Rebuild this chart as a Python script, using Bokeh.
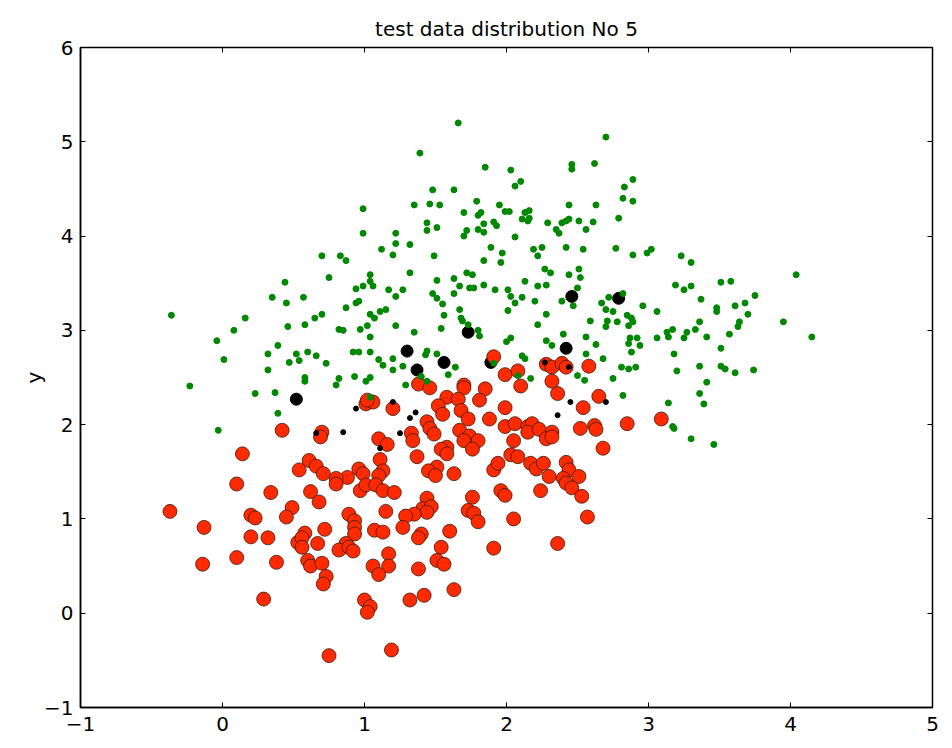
from bokeh.plotting import figure
from bokeh.models import Range1d, LinearAxis, FixedTicker, Label
from bokeh.embed import file_html
from bokeh.resources import INLINE

green_x = [0.70,0.44,0.75,0.35,0.57,
1.66,1.39,1.85,1.48,1.63,1.35,1.46,1.53,1.79,0.99,1.70,1.80,1.82,1.44,1.84,1.91,1.51,1.44,1.72,1.80,1.84,1.70,0.99,1.22,1.22,1.32,1.12,1.20,1.49,1.89,1.84,0.83,0.87,1.04,1.32,1.72,1.76,1.04,1.06,0.99,0.94,1.51,1.63,1.67,1.74,1.77,1.84,1.92,1.17,1.27,1.22,1.48,1.63,1.51,
2.70,2.03,2.46,2.46,2.62,2.89,2.10,2.06,2.83,2.82,2.89,1.95,2.44,2.63,1.99,2.02,2.13,2.16,2.11,2.15,2.16,1.93,2.29,2.39,2.42,2.44,2.51,2.61,2.79,2.35,2.37,2.56,2.06,1.97,1.96,2.19,2.25,2.22,2.42,2.54,2.77,2.89,2.99,3.02,2.27,2.31,2.44,2.51,2.52,2.13,2.22,2.28,2.50,2.01,2.03,2.11,2.82,2.72,
3.23,3.30,4.04,3.19,3.25,3.30,3.51,3.58,3.75,3.37,
3.06,3.48,3.48,3.61,3.68,3.70,3.95,4.15,3.36,3.64,3.63,3.13,3.17,3.27,3.33,3.14,3.06,3.25,3.41,3.57,3.51,3.18,3.20,3.36,3.51,3.54,3.61,3.74,3.41,3.36,3.14,3.39,3.17,3.18,3.30,3.46,
0.45,-0.36,0.16,0.08,0.46,0.58,0.65,0.70,-0.04,0.39,0.01,0.32,0.52,0.60,0.66,0.47,0.54,0.73,0.32,0.58,0.58,-0.23,0.23,0.37,0.39,-0.03,
0.87,0.94,0.96,1.04,1.11,1.15,1.07,1.02,0.97,1.22,0.82,0.85,1.04,1.35,1.55,1.56,1.67,1.68,1.69,1.73,1.54,1.80,1.81,0.92,0.96,1.04,1.10,1.13,1.20,1.27,1.20,1.44,1.43,1.51,1.64,1.59,1.40,1.44,1.29,0.93,1.04,1.01,0.82,0.80,1.04,1.91,
2.20,2.39,2.47,2.67,2.70,2.75,2.96,2.01,2.06,2.28,2.22,2.59,2.71,2.78,2.70,2.85,2.88,2.86,2.89,2.40,2.56,2.28,2.32,2.63,2.87,2.92,2.86,2.94,2.00,2.03,2.56,2.68,2.88,2.11,2.13,2.81,2.86,2.91,2.50,2.55,2.75,2.17,2.82,2.08]
green_y = [3.79,3.51,3.56,3.35,3.35,
5.20,4.88,4.73,4.49,4.49,4.33,4.34,4.33,4.37,4.29,4.25,4.22,4.25,4.14,4.13,4.15,4.09,4.06,4.06,4.07,4.04,4.00,4.03,4.03,3.92,3.91,3.86,3.80,3.79,3.88,3.74,3.79,3.74,3.59,3.61,3.61,3.59,3.52,3.47,3.47,3.44,3.53,3.55,3.47,3.45,3.45,3.48,3.43,3.43,3.43,3.36,3.39,3.39,3.34,
5.05,4.70,4.76,4.71,4.77,4.60,4.58,4.53,4.52,4.40,4.37,4.33,4.33,4.33,4.26,4.26,4.25,4.27,4.18,4.16,4.19,4.11,4.14,4.14,4.16,4.18,4.16,4.15,4.19,4.07,4.03,4.07,3.99,3.82,3.72,3.86,3.88,3.79,3.88,3.86,3.87,3.80,3.82,3.86,3.65,3.61,3.59,3.65,3.56,3.52,3.47,3.48,3.45,3.43,3.36,3.35,3.39,3.35,
3.79,3.72,3.59,3.48,3.43,3.47,3.51,3.52,3.37,3.33,
3.20,3.24,3.20,3.26,3.29,3.17,3.09,2.93,3.09,3.09,3.04,2.98,3.01,2.98,3.01,2.93,2.92,2.92,2.93,2.96,2.81,2.75,2.57,2.62,2.62,2.59,2.55,2.58,2.45,2.33,2.23,2.22,1.98,1.96,1.85,1.79,
3.29,3.16,3.13,3.00,3.04,3.06,3.13,3.17,2.89,2.84,2.69,2.75,2.75,2.77,2.73,2.66,2.68,2.65,2.58,2.50,2.46,2.41,2.33,2.34,2.12,1.94,
3.24,3.29,3.31,3.17,3.20,3.22,3.13,3.05,3.01,3.05,3.01,3.00,2.93,2.98,3.28,3.16,3.22,3.13,3.10,3.06,3.02,3.00,2.94,2.77,2.77,2.77,2.69,2.63,2.70,2.62,2.58,2.78,2.74,2.75,2.61,2.53,2.51,2.46,2.42,2.51,2.50,2.46,2.49,2.42,2.29,2.65,
3.31,3.31,3.26,3.29,3.22,3.20,3.26,3.21,3.29,3.17,3.06,3.10,3.10,3.09,3.04,3.16,3.13,3.05,3.09,2.96,2.93,2.89,2.84,2.85,2.92,2.92,2.86,2.84,2.88,2.92,2.75,2.70,2.77,2.73,2.70,2.61,2.59,2.61,2.52,2.47,2.49,2.49,2.31,2.52]

red_x = [0.42,0.70,0.69,0.14,0.61,0.66,0.54,0.71,
1.38,1.46,1.70,1.70,1.85,1.58,1.66,1.81,1.52,1.55,1.68,1.73,1.88,1.01,1.06,1.02,1.20,1.44,1.46,1.49,1.67,1.74,1.70,1.80,1.76,1.33,1.34,1.10,1.16,1.58,1.54,1.58,1.37,1.11,0.96,0.99,1.13,1.10,0.88,0.80,1.51,1.45,1.50,1.63,1.91,
1.91,1.99,2.08,2.10,2.28,2.32,2.39,2.42,2.58,2.32,2.36,2.65,2.54,1.99,1.99,2.06,2.05,2.15,2.18,2.15,2.23,2.32,2.28,2.32,2.52,2.62,2.63,2.85,2.68,2.03,2.08,1.94,2.17,2.21,2.26,2.42,2.44,2.30,2.51,2.40,
3.09,
0.10,0.34,0.62,0.68,-0.37,-0.13,0.20,0.23,0.49,0.45,0.72,0.20,0.32,0.53,0.58,0.56,0.67,0.56,0.60,0.62,0.70,0.10,-0.14,0.38,0.73,0.71,0.29,0.75,
0.80,0.97,1.01,1.08,1.13,1.21,1.76,1.73,1.77,1.80,1.44,1.41,1.47,1.44,1.35,1.29,1.27,1.15,0.89,0.93,0.93,0.93,1.07,1.13,1.60,1.40,1.38,1.54,0.87,0.82,0.89,0.92,1.17,1.06,1.17,1.10,1.38,1.51,1.56,1.91,1.00,1.04,1.02,1.32,1.42,1.63,1.19,
2.42,2.46,2.53,1.96,1.99,2.24,2.05,2.57,2.36]
red_y = [1.94,1.92,1.87,1.69,1.62,1.56,1.52,1.48,
2.43,2.39,2.42,2.39,2.38,2.29,2.27,2.26,2.20,2.11,2.15,2.06,2.06,2.22,2.24,2.26,2.17,2.03,1.96,1.90,1.94,1.88,1.83,1.83,1.74,1.91,1.83,1.85,1.79,1.76,1.74,1.69,1.66,1.63,1.53,1.48,1.51,1.46,1.44,1.43,1.55,1.51,1.46,1.48,1.52,
2.72,2.53,2.57,2.41,2.64,2.61,2.65,2.61,2.62,2.46,2.33,2.30,2.18,2.18,1.98,2.01,1.83,1.98,2.01,1.92,1.95,1.92,1.85,1.87,1.96,1.99,1.95,2.01,1.75,1.68,1.66,1.59,1.59,1.53,1.59,1.60,1.52,1.45,1.45,1.43,
2.06,
1.37,1.28,1.29,1.18,1.08,0.91,1.04,1.01,1.12,1.02,0.89,0.81,0.80,0.75,0.85,0.80,0.74,0.70,0.56,0.50,0.53,0.59,0.52,0.54,0.39,0.31,0.15,-0.45,
1.37,1.30,1.36,1.36,1.30,1.28,1.23,1.09,1.06,0.97,1.22,1.11,1.13,1.07,1.05,1.03,0.91,1.08,1.05,0.98,0.91,0.84,0.88,0.86,0.87,0.84,0.80,0.70,0.74,0.67,0.70,0.66,0.63,0.50,0.50,0.41,0.47,0.56,0.52,0.69,0.14,0.07,0.01,0.14,0.19,0.25,-0.39,
1.38,1.33,1.24,1.30,1.25,1.30,1.00,1.02,0.74]

big_black_x = [0.52,1.30,1.37,1.56,1.73,1.89,2.42,2.46,2.79]
big_black_y = [2.27,2.78,2.58,2.66,2.98,2.66,2.81,3.36,3.34]
small_black_x = [0.66,1.20,0.94,1.36,1.32,0.85,1.25,1.11,2.27,2.44,2.45,2.70,2.36]
small_black_y = [1.91,2.24,2.17,2.13,2.07,1.92,1.91,1.75,2.66,2.61,2.24,2.24,2.10]

title_text = "test data distribution No 5"
x_ticks = [-1, 0, 1, 2, 3, 4, 5]
y_ticks = [-1, 0, 1, 2, 3, 4, 5, 6]

FONT = "DejaVu Sans"
FS = "20px"

p = figure(width=952, height=748, output_backend="svg", toolbar_location=None,
           x_range=Range1d(-1, 5), y_range=Range1d(-1, 6),
           min_border_left=80, min_border_right=20, min_border_top=47, min_border_bottom=41,
           title=title_text)
p.title.align = "center"
p.title.text_font = FONT
p.title.text_font_size = FS
p.title.text_font_style = "normal"
p.title.text_color = "black"
p.title.standoff = 13
p.grid.visible = False
p.outline_line_color = "black"
p.outline_line_width = 1.5
p.background_fill_color = "white"
p.border_fill_color = "white"

for ax in (p.xaxis[0], p.yaxis[0]):
    ax.major_label_text_font = FONT
    ax.major_label_text_font_size = FS
    ax.major_label_text_color = "black"
    ax.major_tick_in = 5
    ax.major_tick_out = 0
    ax.minor_tick_in = 0
    ax.minor_tick_out = 0
    ax.axis_line_color = "black"
    ax.axis_line_width = 1.5
    ax.major_tick_line_color = "black"
p.xaxis[0].major_label_standoff = 9
p.yaxis[0].major_label_standoff = 7
p.xaxis[0].ticker = FixedTicker(ticks=x_ticks)
p.yaxis[0].ticker = FixedTicker(ticks=y_ticks)
p.yaxis[0].axis_label = "y"
p.yaxis[0].axis_label_text_font = FONT
p.yaxis[0].axis_label_text_font_size = FS
p.yaxis[0].axis_label_text_font_style = "normal"
p.yaxis[0].axis_label_text_color = "black"
p.yaxis[0].axis_label_standoff = -5

top_ax = LinearAxis(ticker=FixedTicker(ticks=x_ticks), major_label_text_font_size="1px",
                    major_label_text_color=None,
                    major_tick_in=5, major_tick_out=0, minor_tick_in=0, minor_tick_out=0,
                    axis_line_color="black", major_label_standoff=0)
right_ax = LinearAxis(ticker=FixedTicker(ticks=y_ticks), major_label_text_font_size="1px",
                      major_label_text_color=None,
                      major_tick_in=5, major_tick_out=0, minor_tick_in=0, minor_tick_out=0,
                      axis_line_color="black", major_label_standoff=0)
p.add_layout(top_ax, "above")
p.add_layout(right_ax, "right")

p.scatter(big_black_x, big_black_y, size=12, fill_color="black", line_color="black")
p.scatter(red_x, red_y, size=14, fill_color="#ff2a00", line_color="#3a1a10", line_width=0.8)
p.scatter(green_x, green_y, size=6, fill_color="#008800", line_color="#008800")
p.scatter(small_black_x, small_black_y, size=5, fill_color="black", line_color="black")

xlabel = Label(x=2, y=-1, y_offset=-22, text="x", text_align="center", text_baseline="top",
               text_font=FONT, text_font_size=FS, text_color="black")
p.add_layout(xlabel)

open("out.html", "w").write(file_html(p, INLINE))
